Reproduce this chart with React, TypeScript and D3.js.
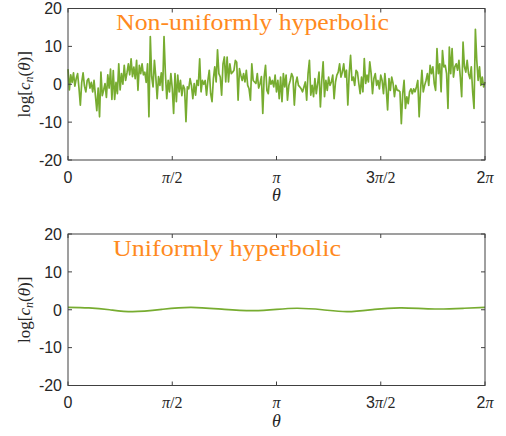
import React from "react";
import * as d3 from "d3";

// Non-uniformly hyperbolic case: log c_n(theta), sampled uniformly on [0, 2π]
const nonUniformValues: number[] = [
  4.0, -1.5, 2.5, 0.5, 3.0, -0.5, 1.5, 2.8, -1.0, -5.5, 0.5, 3.0, -0.5, -2.0, 1.0, 1.5, -1.0, 0.5, -2.0, 1.0, -3.0, -7.0, -1.0, -8.6, 3.2, -3.0, -1.5, 0.2, -3.5, 2.5, -1.0, 4.0, -4.0, 3.6, -4.0, 0.5, -2.5, 5.4, -1.5, 2.8, 0.0, 5.0, 1.0, 3.0, 5.4, 2.5, 6.7, 2.0, 4.5, 1.5,
  6.3, -1.6, 5.0, 2.8, 5.4, 2.5, 3.2, 0.5, 5.4, -8.6, 12.6, 2.0, -0.7, 6.3, 2.0, -3.8, 2.0, -0.3, 3.0, -1.6, 12.6, 2.8, -3.8, 1.0, -2.0, 2.8, -1.0, -7.7, 2.8, -4.6, 2.4, -2.0, 1.0, -3.0, -0.3, -1.2, -9.9, -0.7, -1.2, 1.5, -0.3, -3.8, 0.2, -2.9, 1.0, -0.3, 6.7, -2.0, 1.0, 0.0,
  1.0, -2.9, 1.0, 3.7, -2.5, -4.6, 1.5, 4.6, 0.6, 9.1, 2.8, 1.9, -2.9, 5.4, 7.2, 0.6, 7.2, 0.6, 5.4, 2.8, 3.2, 3.7, 6.3, 5.8, -4.2, 4.1, 2.4, 1.0, 2.8, 0.6, 3.7, -0.3, -1.2, -4.2, 5.4, 1.0, 0.6, 0.2, 2.8, -1.0, 0.2, 2.0, -7.7, 1.9, 5.0, -1.6, -2.5, 1.9, 0.0, 1.0,
  -0.7, 2.4, -2.0, 1.0, -3.8, 1.9, -4.6, 2.8, -0.7, 2.4, -4.2, -0.3, 1.0, 2.8, 1.9, -5.5, 0.2, 1.9, -0.3, -0.7, -1.2, -2.0, -0.7, 0.6, -4.2, 2.8, 6.3, -2.9, -0.3, -3.3, 1.5, -2.5, 0.2, 3.2, -6.0, 1.0, 5.9, -3.3, 1.0, -1.6, 1.9, -0.3, 0.6, 2.4, -3.8, 0.6, 2.4, 3.2, 5.4, 1.9,
  3.2, 5.4, 1.9, 3.7, -5.5, 2.8, 7.6, 1.0, 1.9, -0.3, 3.7, 3.2, 0.2, -2.5, 1.9, -2.0, 6.8, 0.2, 2.4, 0.6, 5.9, 2.8, -2.5, 1.5, 2.8, -0.3, 1.0, -1.2, 2.4, 1.0, -2.5, 2.8, -1.2, -6.8, 1.5, -1.6, 1.9, 0.2, -3.3, -0.3, -1.6, -1.6, -2.0, -10.4, -2.5, 1.0, -6.4, -3.3, -5.1, -2.0, -1.2, -2.5, -1.2,
  -2.0, -0.7, 1.0, -8.6, -1.6, 3.7, -2.0, -0.3, 1.0, 2.8, -0.3, 5.0, 2.8, 4.6, 0.2, -1.6, 9.4, 2.8, 5.4, -2.0, 8.9, 4.6, 5.0, 2.8, -6.4, 9.8, 2.8, 9.4, 1.9, 4.6, 5.4, 3.7, 6.3, 1.9, -3.3, 11.1, 4.6, 3.2, 6.3, 2.8, 1.5, 4.6, -2.0, -6.4, 14.5, 6.3, 1.0, 4.6, -0.3, 1.9, -0.7, 0.6,
];

// Uniformly hyperbolic case: smooth curve, theta given in multiples of π
const uniformThetaOverPi: number[] = [0, 0.1, 0.2, 0.31, 0.45, 0.59, 0.75, 0.89, 1.0, 1.1, 1.22, 1.34, 1.47, 1.6, 1.76, 1.9, 2.0];
const uniformValues: number[] = [0.65, 0.5, 0.0, -0.5, 0.1, 0.65, 0.1, -0.25, 0.1, 0.4, 0.0, -0.5, 0.1, 0.5, 0.2, 0.4, 0.65];

const yTicks: number[] = [-20, -10, 0, 10, 20];
const xTicksOverPi: number[] = [0, 0.5, 1, 1.5, 2];
const xTickLabels: string[] = ["0", "π/2", "π", "3π/2", "2π"];
const panelTitles: string[] = ["Non-uniformly hyperbolic", "Uniformly hyperbolic"];

const GREEN = "#77AC30";
const ORANGE = "#FF8A1E";
const AXIS = "#404040";
const TEXT = "#262626";
const SANS = "Liberation Sans, Arial, Helvetica, sans-serif";
const SERIF = "Liberation Serif, Times New Roman, DejaVu Serif, serif";

type PanelProps = {
  top: number;
  bottom: number;
  left: number;
  right: number;
  points: [number, number][];
  curve: d3.CurveFactory;
  title: string;
  titleX: number;
  titleY: number;
  titleLen: number;
};

function TickLabel({ label }: { label: string }) {
  const parts = label.split("π");
  if (parts.length === 1) return <tspan style={{ fontFamily: SANS }}>{label}</tspan>;
  return (
    <>
      {parts[0] && <tspan style={{ fontFamily: SANS }}>{parts[0]}</tspan>}
      <tspan style={{ fontFamily: SERIF, fontStyle: "italic" }}>π</tspan>
      {parts[1] && <tspan style={{ fontFamily: SERIF }}>{parts[1]}</tspan>}
    </>
  );
}

function Panel({ top, bottom, left, right, points, curve, title, titleX, titleY, titleLen }: PanelProps) {
  const x = d3.scaleLinear().domain([0, 2 * Math.PI]).range([left, right]);
  const y = d3.scaleLinear().domain([-20, 20]).range([bottom, top]);
  const line = d3
    .line<[number, number]>()
    .x((d) => x(d[0]))
    .y((d) => y(d[1]))
    .curve(curve);
  const tickLen = 4;
  const midY = (top + bottom) / 2;
  return (
    <g>
      <path d={line(points) ?? ""} fill="none" stroke={GREEN} strokeWidth={1.7} strokeLinejoin="round" />
      <text
        x={titleX}
        y={titleY}
        fill={ORANGE}
        style={{ fontFamily: SERIF, fontSize: "23px" }}
        textLength={titleLen}
        lengthAdjust="spacingAndGlyphs"
      >
        {title}
      </text>
      <rect x={left} y={top} width={right - left} height={bottom - top} fill="none" stroke={AXIS} strokeWidth={1} />
      {yTicks.map((t) => (
        <g key={"y" + t}>
          <line x1={left} x2={left + tickLen} y1={y(t)} y2={y(t)} stroke={AXIS} />
          <line x1={right} x2={right - tickLen} y1={y(t)} y2={y(t)} stroke={AXIS} />
          <text
            x={left - 6}
            y={y(t)}
            dy="0.36em"
            textAnchor="end"
            style={{ fontFamily: SANS, fontSize: "16px" }}
            fill={TEXT}
          >
            {t}
          </text>
        </g>
      ))}
      {xTicksOverPi.map((t, i) => (
        <g key={"x" + t}>
          <line x1={x(t * Math.PI)} x2={x(t * Math.PI)} y1={bottom} y2={bottom - tickLen} stroke={AXIS} />
          <line x1={x(t * Math.PI)} x2={x(t * Math.PI)} y1={top} y2={top + tickLen} stroke={AXIS} />
          <text
            x={x(t * Math.PI)}
            y={bottom + 17}
            dy="0.36em"
            textAnchor="middle"
            style={{ fontSize: "16px" }}
            fill={TEXT}
          >
            <TickLabel label={xTickLabels[i]} />
          </text>
        </g>
      ))}
      <text
        x={(left + right) / 2}
        y={bottom + 35}
        dy="0.36em"
        textAnchor="middle"
        style={{ fontFamily: SERIF, fontStyle: "italic", fontSize: "18px" }}
        fill={TEXT}
      >
        θ
      </text>
      <text
        transform={`translate(${left - 44},${midY}) rotate(-90)`}
        textAnchor="middle"
        dy="0.36em"
        style={{ fontFamily: SERIF, fontSize: "17px" }}
        fill={TEXT}
      >
        <tspan>log[</tspan>
        <tspan style={{ fontStyle: "italic" }}>c</tspan>
        <tspan style={{ fontStyle: "italic", fontSize: "12px" }} dy="3">n</tspan>
        <tspan dy="-3">(</tspan>
        <tspan style={{ fontStyle: "italic" }}>θ</tspan>
        <tspan>)]</tspan>
      </text>
    </g>
  );
}

export default function App() {
  const n = nonUniformValues.length;
  const noisyPoints: [number, number][] = nonUniformValues.map((v, i) => [(i / (n - 1)) * 2 * Math.PI, v]);
  const smoothPoints: [number, number][] = uniformThetaOverPi.map((t, i) => [t * Math.PI, uniformValues[i]]);
  return (
    <svg
      width={506}
      height={436}
      viewBox="0 0 506 436"
      style={{ position: "absolute", left: 0, top: 0, background: "#fff" }}
    >
      <rect x={0} y={0} width={506} height={436} fill="#fff" />
      <Panel
        top={8.5}
        bottom={160}
        left={68}
        right={485}
        points={noisyPoints}
        curve={d3.curveLinear}
        title={panelTitles[0]}
        titleX={116}
        titleY={30}
        titleLen={273}
      />
      <Panel
        top={234}
        bottom={385.5}
        left={68}
        right={485}
        points={smoothPoints}
        curve={d3.curveNatural}
        title={panelTitles[1]}
        titleX={113}
        titleY={256}
        titleLen={228}
      />
    </svg>
  );
}
